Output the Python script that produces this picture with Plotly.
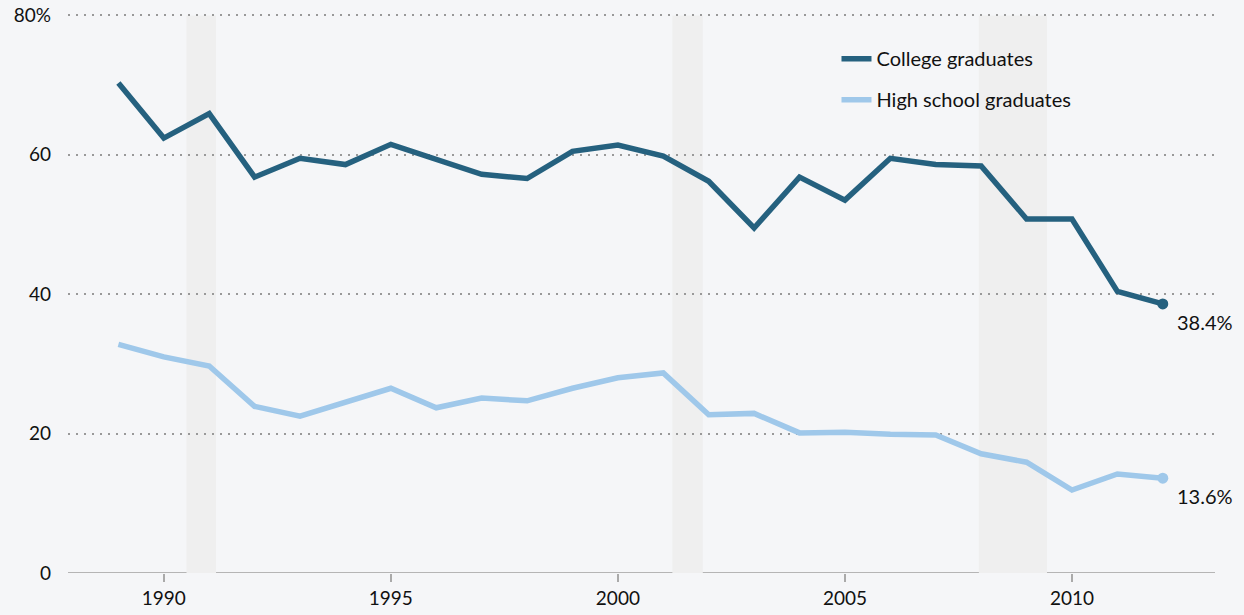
import plotly.graph_objects as go

years = list(range(1989, 2013))
college = [70.3, 62.4, 65.9, 56.8, 59.5, 58.6, 61.5, 59.4, 57.2, 56.6, 60.5, 61.4,
           59.8, 56.2, 49.5, 56.8, 53.5, 59.5, 58.6, 58.4, 50.8, 50.8, 40.4, 38.6]
high_school = [32.8, 31.0, 29.7, 23.9, 22.5, 24.4, 26.5, 23.7, 25.1, 24.7, 26.5, 28.0,
               28.7, 22.7, 22.9, 20.1, 20.2, 19.9, 19.8, 17.1, 15.9, 11.9, 14.2, 13.6]
recessions = [(1990.5, 1991.15), (2001.2, 2001.87), (2007.95, 2009.45)]
end_labels = ["38.4%", "13.6%"]
x_ticks = [1990, 1995, 2000, 2005, 2010]
y_ticks = [0, 20, 40, 60, 80]
y_tick_text = ["0", "20", "40", "60", "80%"]

c_dark = "#25617f"
c_light = "#9fc8ea"
bg = "#f5f6f8"
font = "Lato"

fig = go.Figure()

for x0, x1 in recessions:
    fig.add_shape(type="rect", x0=x0, x1=x1, y0=0, y1=80, xref="x", yref="y",
                  fillcolor="#efefef", line_width=0, layer="below")

fig.add_trace(go.Scatter(x=years, y=college, mode="lines", name="College graduates",
                         legendgroup="a", line=dict(color=c_dark, width=5.5)))
fig.add_trace(go.Scatter(x=years, y=high_school, mode="lines", name="High school graduates",
                         legendgroup="b", line=dict(color=c_light, width=5.5)))
fig.add_trace(go.Scatter(x=[years[-1]], y=[college[-1]], mode="markers", showlegend=False,
                         marker=dict(color=c_dark, size=11)))
fig.add_trace(go.Scatter(x=[years[-1]], y=[high_school[-1]], mode="markers", showlegend=False,
                         marker=dict(color=c_light, size=11)))

for val, txt in zip([college[-1], high_school[-1]], end_labels):
    fig.add_annotation(x=years[-1], y=val, text=txt, showarrow=False,
                       xanchor="left", yanchor="top", xshift=12, yshift=-4,
                       font=dict(family=font, size=20, color="#111111"))

fig.update_layout(
    width=1244, height=615,
    margin=dict(l=68, r=29, t=14, b=42, autoexpand=False),
    paper_bgcolor=bg, plot_bgcolor=bg,
    font=dict(family=font, size=19, color="#111111"),
    legend=dict(x=0.67, y=0.955, xanchor="left", yanchor="top",
                bgcolor="rgba(0,0,0,0)", font=dict(family=font, size=20),
                tracegroupgap=12),
    showlegend=True,
)
fig.update_xaxes(range=[1987.89, 2013.15], tickvals=x_ticks, showgrid=False,
                 ticks="outside", ticklen=8, tickcolor="#aaaaaa", tickwidth=1.5,
                 showline=False, zeroline=False, automargin=False)
fig.update_yaxes(range=[0, 80.2], tickvals=y_ticks, ticktext=y_tick_text,
                 showgrid=True, gridcolor="#999999", gridwidth=2, griddash="2px,6px",
                 zeroline=False, showline=False, ticks="", ticklabelstandoff=16,
                 automargin=False)
fig.add_shape(type="line", x0=0, x1=1, y0=0, y1=0, xref="x domain", yref="y",
              line=dict(color="#b5b5b5", width=2), layer="below")

fig.write_html("out.html", config={"displayModeBar": False},
               post_script="document.body.style.margin='0';document.body.style.background='%s';" % bg)
